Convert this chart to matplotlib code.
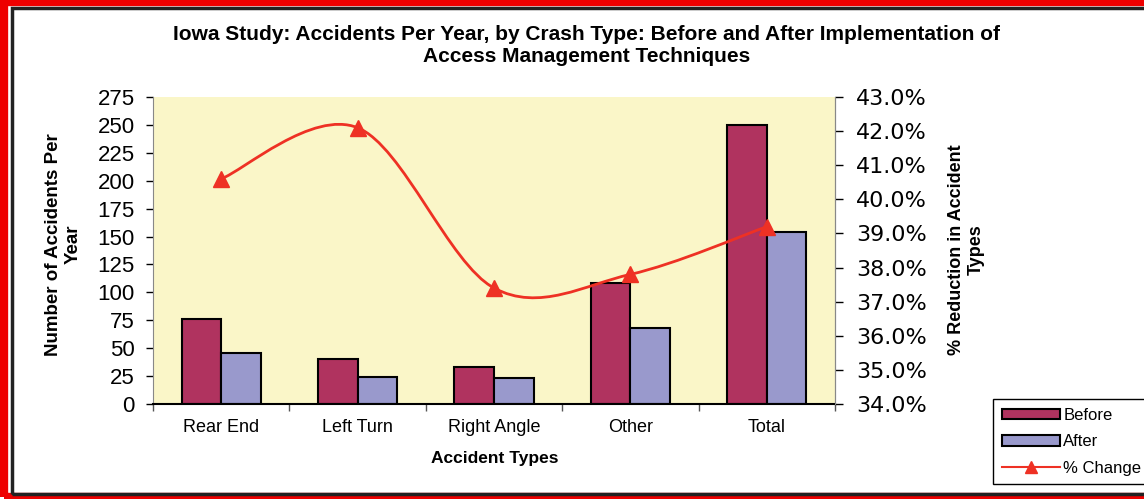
import matplotlib
matplotlib.use("Agg")
import matplotlib.pyplot as plt
from matplotlib.path import Path
from matplotlib.patches import PathPatch, Rectangle, Patch
from matplotlib.lines import Line2D
import numpy as np

categories = ["Rear End", "Left Turn", "Right Angle", "Other", "Total"]
before = [76, 40, 33, 108, 250]
after = [46, 24, 23, 68, 154]
pct_change = [40.6, 42.1, 37.4, 37.8, 39.2]

before_color = "#B0335F"
after_color = "#9999CC"
line_color = "#EE3124"

plt.rcParams['font.family'] = ['Liberation Sans', 'DejaVu Sans']

W, H = 1144, 499
fig = plt.figure(figsize=(W / 100, H / 100), dpi=100)
ax = fig.add_axes([153 / W, 95 / H, 682 / W, 307 / H])
ax.set_facecolor("#FAF6C8")

x = np.arange(len(categories))
w = 0.29
ax.bar(x - w / 2, before, w, color=before_color, edgecolor="black", linewidth=1.5)
ax.bar(x + w / 2, after, w, color=after_color, edgecolor="black", linewidth=1.5)
ax.set_xlim(-0.5, len(categories) - 0.5)
ax.set_ylim(0, 275)
ax.set_yticks(range(0, 276, 25))
ax.tick_params(axis="y", labelsize=16, length=5, width=1, pad=8)

ax.set_xticks(x)
ax.set_xticklabels(categories, fontsize=13)
ax.tick_params(axis="x", which="major", length=0, pad=11)
ax.set_xticks(np.arange(-0.5, len(categories), 1), minor=True)
ax.tick_params(axis="x", which="minor", length=5, width=1, color="#555555")

ax.spines["top"].set_visible(False)
ax.spines["left"].set_color("#888888")
ax.spines["right"].set_color("#888888")
ax.spines["bottom"].set_linewidth(1.5)

# secondary axis for % change
ax2 = ax.twinx()
ax2.set_ylim(34, 43)
ax2.set_yticks(np.arange(34, 43.1, 1))
ax2.set_yticklabels([f"{v:.1f}%" for v in np.arange(34, 43.1, 1)],
                    family="DejaVu Sans", fontsize=16)
ax2.tick_params(axis="y", length=6, width=1, pad=9)
ax2.spines["top"].set_visible(False)
ax2.spines["right"].set_color("#888888")
ax2.spines["left"].set_visible(False)
ax2.spines["bottom"].set_visible(False)

# smoothed line (Bezier segments, like the spreadsheet "smoothed line")
pts = np.column_stack([x, pct_change]).astype(float)
ext = np.vstack([pts[0], pts, pts[-1]])
verts = [tuple(pts[0])]
codes = [Path.MOVETO]
for i in range(len(pts) - 1):
    t0 = (ext[i + 2] - ext[i]) / 2
    t1 = (ext[i + 3] - ext[i + 1]) / 2
    verts += [tuple(pts[i] + t0 / 3), tuple(pts[i + 1] - t1 / 3), tuple(pts[i + 1])]
    codes += [Path.CURVE4] * 3
ax2.add_patch(PathPatch(Path(verts, codes), fill=False, edgecolor=line_color, lw=2))
ax2.plot(x, pct_change, linestyle="none", marker="^", markersize=12, color=line_color)

# titles and labels
fig.text(0.513, 0.908,
         "Iowa Study: Accidents Per Year, by Crash Type: Before and After Implementation of\n"
         "Access Management Techniques",
         ha="center", va="center", fontsize=15, fontweight="bold", linespacing=1.2)
fig.text(0.055, 0.51, "Number of Accidents Per\nYear", rotation=90, ha="center",
         va="center", fontsize=13.5, fontweight="bold", multialignment="center")
fig.text(0.845, 0.50, "% Reduction in Accident\nTypes", rotation=90, ha="center",
         va="center", fontsize=13, fontweight="bold", multialignment="center")
fig.text(495 / W, 1 - 459 / H, "Accident Types", ha="center", va="center",
         fontsize=12.5, fontweight="bold")

# legend
handles = [Patch(facecolor=before_color, edgecolor="black", linewidth=1.5),
           Patch(facecolor=after_color, edgecolor="black", linewidth=1.5),
           Line2D([], [], color=line_color, lw=1.5, marker="^", markersize=9)]
leg = fig.legend(handles, ["Before", "After", "% Change"], loc="upper left",
                 bbox_to_anchor=(985 / W, 1 - 391 / H), fontsize=12,
                 handlelength=3.5, handleheight=0.6, handletextpad=0.2,
                 labelspacing=0.7, borderpad=0.5, fancybox=False, framealpha=1)
leg.get_frame().set_edgecolor("black")
leg.get_frame().set_linewidth(1)

# outer frame
fig.add_artist(Rectangle((4 / W, 2 / H), 2, 495 / H, transform=fig.transFigure,
                         fill=False, edgecolor="#EE0000", lw=6))
fig.add_artist(Rectangle((12 / W, 5 / H), 2, 486 / H, transform=fig.transFigure,
                         fill=False, edgecolor="#222222", lw=2.5))

fig.savefig("out.png", dpi=100)
